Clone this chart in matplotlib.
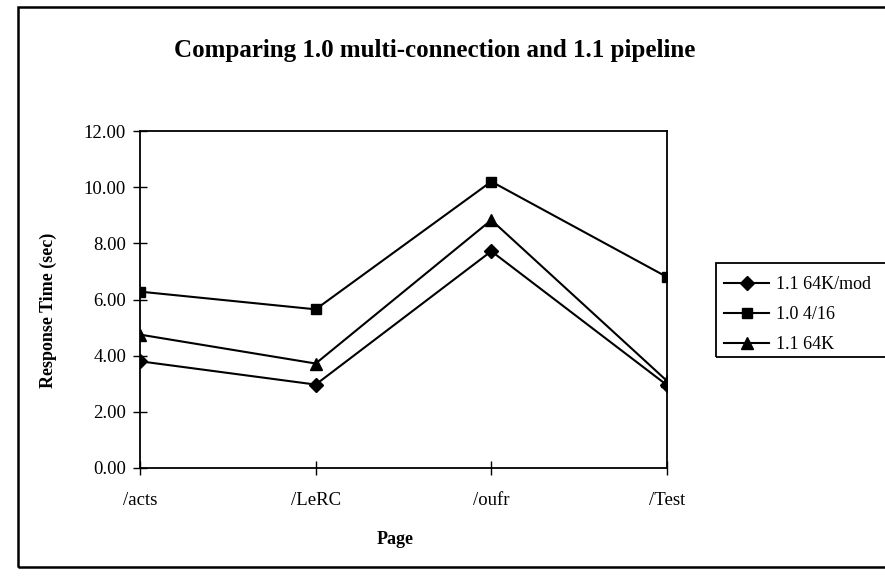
import matplotlib.pyplot as plt
from matplotlib.patches import Rectangle

pages = ["/acts", "/LeRC", "/oufr", "/Test"]
mod_64k = [3.8, 2.97, 7.72, 2.95]
multi_416 = [6.28, 5.65, 10.2, 6.8]
pipe_64k = [4.75, 3.72, 8.83, 3.1]
y_ticks = [0, 2, 4, 6, 8, 10, 12]

plt.rcParams["font.family"] = ["Liberation Serif", "DejaVu Serif"]

W, H = 885, 577
fig = plt.figure(figsize=(W / 100, H / 100), dpi=100)


def fx(px):
    return px / W


def fy(py):
    return 1 - py / H


# outer chart frame (runs off the right edge like the scan)
fig.patches.append(Rectangle((fx(18), fy(567)), fx(920) - fx(18), fy(7) - fy(567),
                             transform=fig.transFigure, fill=False, lw=1.8, color="black"))

ax = fig.add_axes([fx(140), fy(468), fx(667) - fx(140), fy(131) - fy(468)])
x = range(len(pages))
ax.plot(x, mod_64k, color="black", lw=1.5, marker="D", ms=7.5, label="1.1 64K/mod")
ax.plot(x, multi_416, color="black", lw=1.5, marker="s", ms=6.5, label="1.0 4/16")
ax.plot(x, pipe_64k, color="black", lw=1.5, marker="^", ms=8, label="1.1 64K")

ax.set_xlim(0, len(pages) - 1)
ax.set_ylim(0, 12)
ax.set_xticks(list(x))
ax.set_xticklabels(pages, fontsize=13.5)
ax.set_yticks(y_ticks)
ax.set_yticklabels([f"{v:.2f}" for v in y_ticks], fontsize=13.5)
ax.tick_params(axis="both", direction="inout", length=10, width=1.0)
ax.tick_params(axis="x", pad=12)
ax.tick_params(axis="y", pad=5)
for sp in ax.spines.values():
    sp.set_linewidth(1.3)

fig.text(fx(395), fy(540), "Page", ha="center", va="center",
         fontsize=13, fontweight="bold")
fig.text(fx(48), fy(310), "Response Time (sec)", ha="center", va="center",
         rotation=90, fontsize=13, fontweight="bold")
fig.text(fx(435), fy(50), "Comparing 1.0 multi-connection and 1.1 pipeline",
         ha="center", va="center", fontsize=18, fontweight="bold")

# legend box, also clipped by the right edge
fig.patches.append(Rectangle((fx(716), fy(357)), fx(920) - fx(716), fy(263) - fy(357),
                             transform=fig.transFigure, fill=False, lw=1.3, color="black"))
ax.legend(loc="upper left", bbox_to_anchor=(fx(711), fy(263)),
          bbox_transform=fig.transFigure, frameon=False,
          handlelength=2.5, borderpad=0.72, labelspacing=0.72,
          handletextpad=0.4, borderaxespad=0, prop={"size": 13})

fig.savefig("out.png", dpi=100)
